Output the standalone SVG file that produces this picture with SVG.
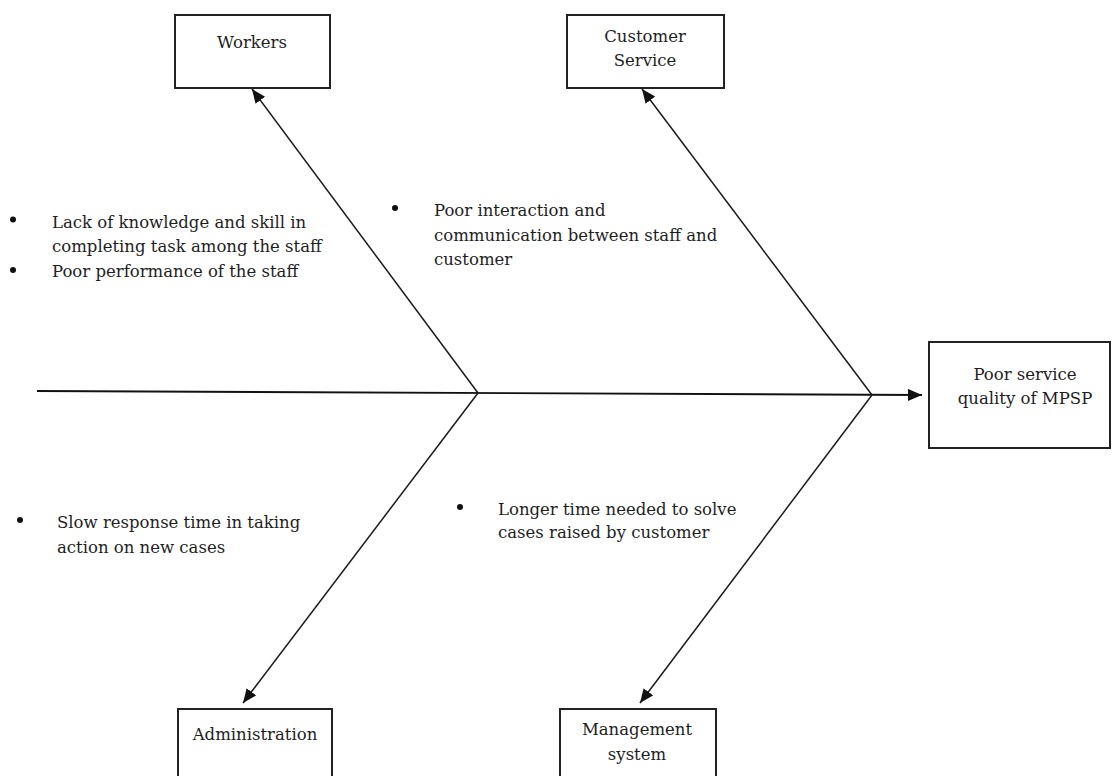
<svg xmlns="http://www.w3.org/2000/svg" width="1112" height="776" viewBox="0 0 1112 776">
  <style>
    .box { fill: #ffffff; stroke: #222222; stroke-width: 2; }
    .lbl { font-family: "DejaVu Serif", "Liberation Serif", serif; font-size: 16.5px; fill: #1e1e1e; text-anchor: middle; }
    .txt { font-family: "DejaVu Serif", "Liberation Serif", serif; font-size: 16.5px; fill: #1e1e1e; }
    .bul { fill: #111111; }
    .conn { stroke: #1a1a1a; stroke-width: 1.5; fill: none; }
    .spine { stroke: #111111; stroke-width: 1.9; fill: none; }
  </style>
  <defs>
    <marker id="arr" markerUnits="userSpaceOnUse" markerWidth="16" markerHeight="14" refX="14" refY="6" orient="auto">
      <path d="M0,0 L14,6 L0,12 Z" fill="#111111"/>
    </marker>
  </defs>
  <rect width="1112" height="776" fill="#ffffff"/>

  <g id="connectors">
    <line class="spine" x1="37" y1="391" x2="922" y2="395" marker-end="url(#arr)"/>
    <line class="conn" x1="478" y1="393" x2="252" y2="89" marker-end="url(#arr)"/>
    <line class="conn" x1="872" y1="395" x2="642" y2="89" marker-end="url(#arr)"/>
    <line class="conn" x1="478" y1="393" x2="243" y2="703" marker-end="url(#arr)"/>
    <line class="conn" x1="872" y1="395" x2="640" y2="703" marker-end="url(#arr)"/>
  </g>

  <g id="node-workers">
    <rect class="box" x="175" y="15" width="155" height="73"/>
    <text class="lbl" x="252" y="48">Workers</text>
  </g>

  <g id="node-customer-service">
    <rect class="box" x="567" y="15" width="157" height="73"/>
    <text class="lbl" x="645" y="42">Customer</text>
    <text class="lbl" x="645" y="66">Service</text>
  </g>

  <g id="node-effect">
    <rect class="box" x="929" y="342" width="181" height="106"/>
    <text class="lbl" x="1025" y="380">Poor service</text>
    <text class="lbl" x="1025" y="404">quality of MPSP</text>
  </g>

  <g id="node-administration">
    <rect class="box" x="178" y="709" width="154" height="90"/>
    <text class="lbl" x="255" y="740">Administration</text>
  </g>

  <g id="node-management">
    <rect class="box" x="560" y="709" width="156" height="90"/>
    <text class="lbl" x="637" y="735">Management</text>
    <text class="lbl" x="637" y="760">system</text>
  </g>

  <g id="note-workers">
    <circle class="bul" cx="13" cy="219.5" r="3"/>
    <text class="txt" x="52" y="228">Lack of knowledge and skill in</text>
    <text class="txt" x="52" y="252">completing task among the staff</text>
    <circle class="bul" cx="13" cy="270" r="3"/>
    <text class="txt" x="52" y="277">Poor performance of the staff</text>
  </g>

  <g id="note-customer-service">
    <circle class="bul" cx="395" cy="208" r="3"/>
    <text class="txt" x="434" y="216">Poor interaction and</text>
    <text class="txt" x="434" y="241">communication between staff and</text>
    <text class="txt" x="434" y="265">customer</text>
  </g>

  <g id="note-administration">
    <circle class="bul" cx="20" cy="520" r="3"/>
    <text class="txt" x="57" y="528">Slow response time in taking</text>
    <text class="txt" x="57" y="553">action on new cases</text>
  </g>

  <g id="note-management">
    <circle class="bul" cx="460" cy="507" r="3"/>
    <text class="txt" x="498" y="515">Longer time needed to solve</text>
    <text class="txt" x="498" y="538">cases raised by customer</text>
  </g>
</svg>
